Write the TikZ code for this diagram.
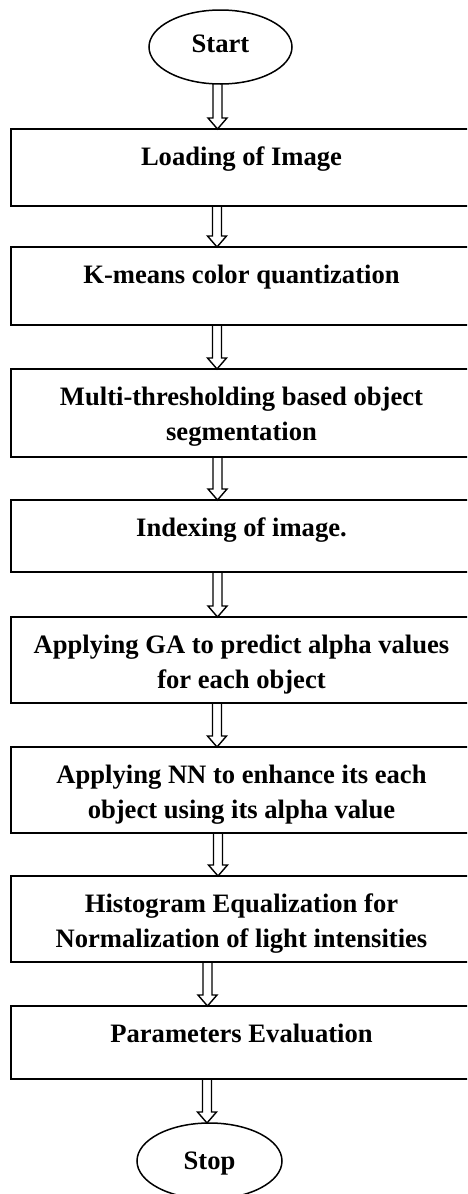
\documentclass[tikz,border=0pt]{standalone}
\usepackage{fontspec}
\setmainfont{Liberation Serif}
\usetikzlibrary{shapes.geometric,calc}
\newcommand\hollowarrow[3]{%
  \draw[flow] ($(#3 |- #1.south)+(-4.5,0)$) -- ($(#3 |- #2.north)+(-4.5,-11)$) -- ++(-5,0)
    -- (#3 |- #2.north) -- ($(#3 |- #2.north)+(9.5,-11)$) -- ++(-5,0)
    -- ($(#3 |- #1.south)+(4.5,0)$);}
\begin{document}
\begin{tikzpicture}[x=1pt,y=-1pt,
  box/.style={draw, line width=1.6pt, rectangle, minimum width=461pt, inner sep=0pt, outer sep=0pt, anchor=north},
  txt/.style={font=\fontsize{26.6pt}{35pt}\selectfont\bfseries, align=center, anchor=base, inner sep=0pt},
  term/.style={draw, line width=1.5pt, ellipse, inner sep=0pt, outer sep=0pt, font=\fontsize{26.6pt}{35pt}\selectfont\bfseries, text depth=0pt},
  flow/.style={line width=1.4pt, line join=miter}
]
\path[use as bounding box] (0,0) rectangle (467,1194);
\clip (0,0) rectangle (467,1194);

\node[term, minimum width=143pt, minimum height=74pt, text depth=6pt] (start) at (220.5,47) {Start};

\node[box, minimum height=77pt] (b1) at (241.5,129) {};
\node[txt] (t1) at ($(b1.north)+(0,36)$) {Loading of Image};

\node[box, minimum height=78pt] (b2) at (241.5,247) {};
\node[txt] (t2) at ($(b2.north)+(0,36)$) {K-means color quantization};

\node[box, minimum height=88pt] (b3) at (241.5,369) {};
\node[txt] (t3) at ($(b3.north)+(0,71)$) {Multi-thresholding based object\\segmentation};

\node[box, minimum height=72pt] (b4) at (241.5,500) {};
\node[txt] (t4) at ($(b4.north)+(0,36)$) {Indexing of image.};

\node[box, minimum height=86pt] (b5) at (241.5,617) {};
\node[txt] (t5) at ($(b5.north)+(0,71)$) {Applying GA to predict alpha values\\for each object};

\node[box, minimum height=86pt] (b6) at (241.5,747) {};
\node[txt] (t6) at ($(b6.north)+(0,71)$) {Applying NN to enhance its each\\object using its alpha value};

\node[box, minimum height=86pt] (b7) at (241.5,876) {};
\node[txt] (t7) at ($(b7.north)+(0,71)$) {Histogram Equalization for\\Normalization of light intensities};

\node[box, minimum height=73pt] (b8) at (241.5,1006) {};
\node[txt] (t8) at ($(b8.north)+(0,36)$) {Parameters Evaluation};

\node[term, minimum width=145pt, minimum height=76pt] (stop) at (209.5,1161) {Stop};

\coordinate (xa) at (217.5,0);
\coordinate (xb) at (217,0);
\coordinate (xc) at (218,0);
\coordinate (xd) at (207.5,0);
\coordinate (xe) at (207,0);

\hollowarrow{start}{b1}{xa}
\hollowarrow{b1}{b2}{xb}
\hollowarrow{b2}{b3}{xb}
\hollowarrow{b3}{b4}{xa}
\hollowarrow{b4}{b5}{xa}
\hollowarrow{b5}{b6}{xb}
\hollowarrow{b6}{b7}{xc}
\hollowarrow{b7}{b8}{xd}
\hollowarrow{b8}{stop}{xe}
\end{tikzpicture}
\end{document}
